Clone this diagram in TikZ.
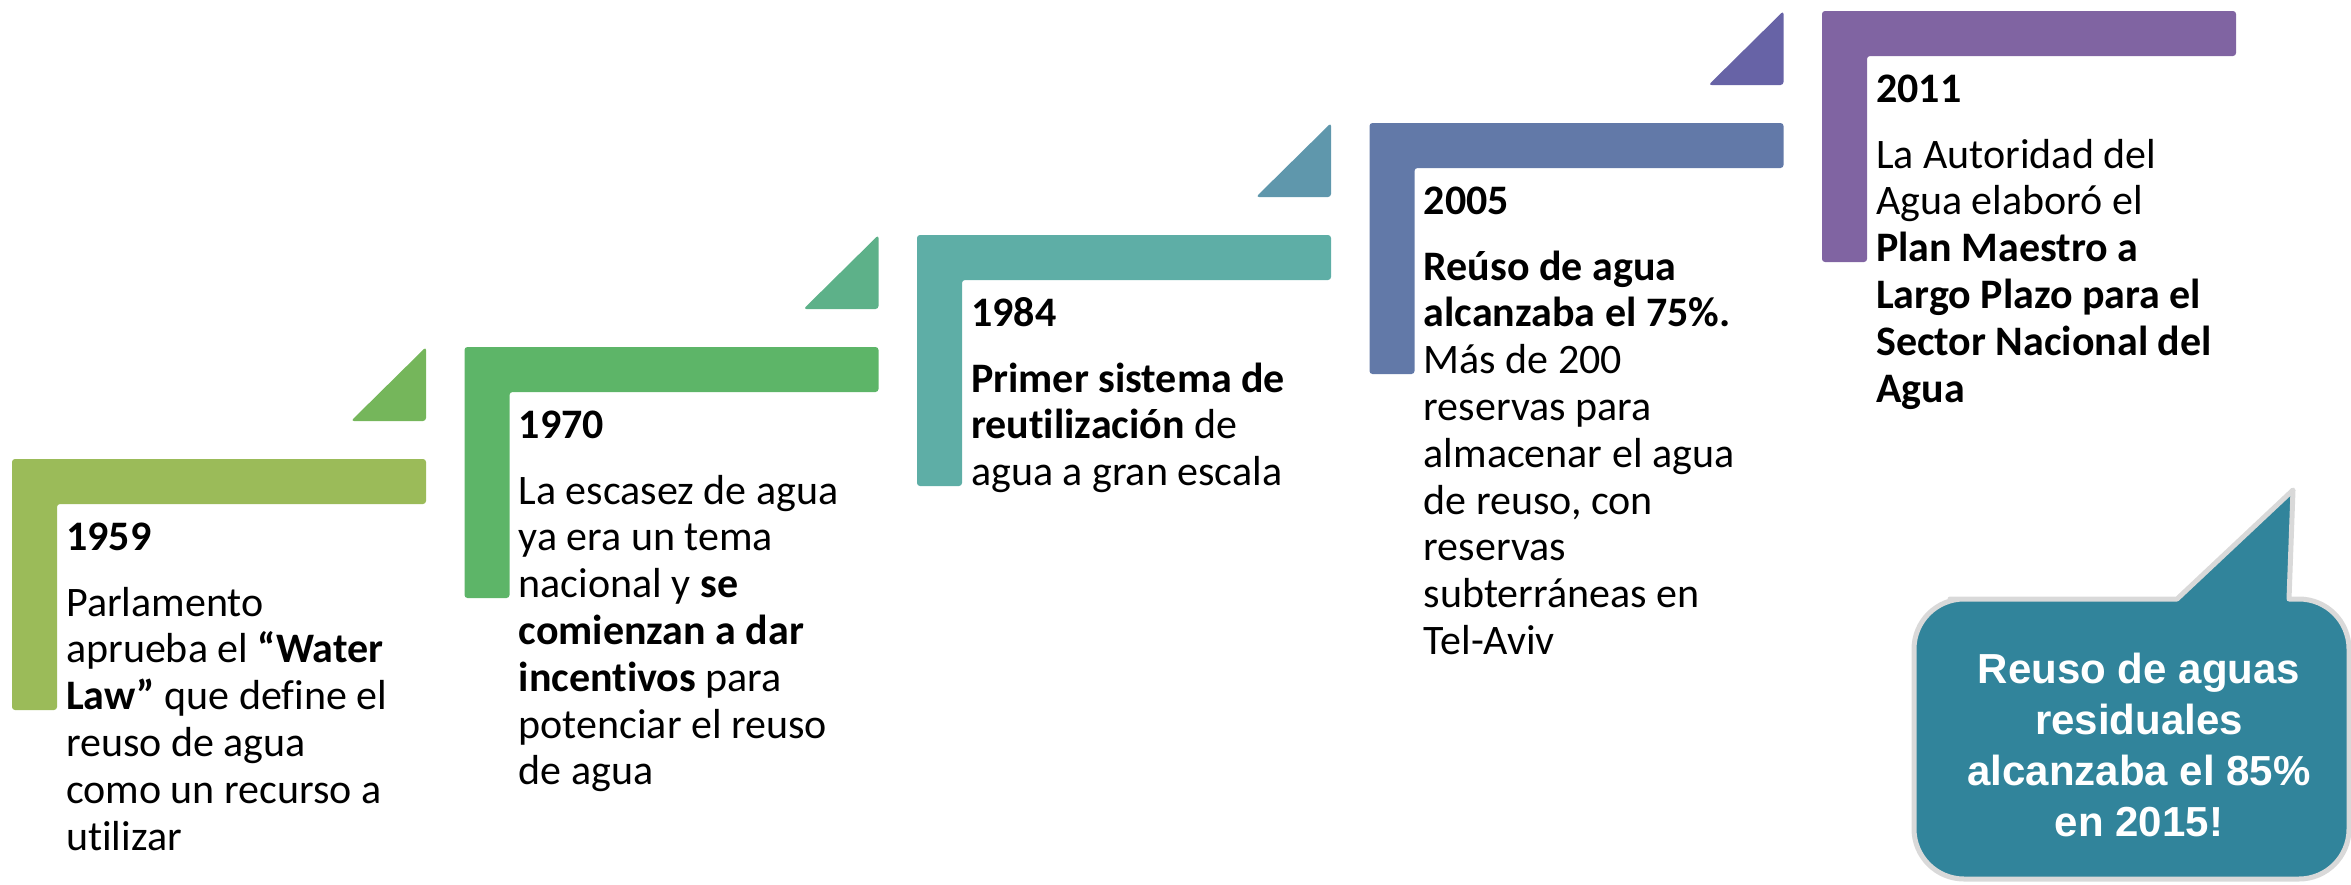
\documentclass[tikz,border=0pt]{standalone}
\usepackage{fontspec}
\setmainfont{Carlito}[Ligatures=NoCommon]
\newfontfamily\arialfont{Liberation Sans}
\definecolor{cA}{HTML}{9BBB59}
\definecolor{tA}{HTML}{75B65B}
\definecolor{cB}{HTML}{5DB568}
\definecolor{tB}{HTML}{5DB189}
\definecolor{cC}{HTML}{5EAEA6}
\definecolor{tC}{HTML}{5F97AC}
\definecolor{cD}{HTML}{6279A8}
\definecolor{tD}{HTML}{6763A6}
\definecolor{cE}{HTML}{8064A2}
\definecolor{calloutfill}{HTML}{31849B}
\definecolor{calloutline}{HTML}{D9D9D9}
\newcommand{\bodyfont}{\fontsize{42}{46.8}\selectfont}
\begin{document}
\begin{tikzpicture}[x=1pt,y=-1pt,
  stepshape/.style={fill=#1, rounded corners=3pt},
  trishape/.style={fill=#1, rounded corners=3pt},
  yeartext/.style={anchor=base west, inner sep=0pt, font=\bodyfont\bfseries},
  bodytext/.style={anchor=base west, inner sep=0pt},
  callouttext/.style={anchor=base, inner sep=0pt, text=white}]
\useasboundingbox (0,0) rectangle (2351,884);

% steps
\fill[stepshape=cA] (12,459) -- (426,459) -- (426,504) -- (57,504) -- (57,710) -- (12,710) -- cycle;
\fill[stepshape=cB] (464.5,347) -- (878.5,347) -- (878.5,392) -- (509.5,392) -- (509.5,598) -- (464.5,598) -- cycle;
\fill[stepshape=cC] (917,235) -- (1331,235) -- (1331,280) -- (962,280) -- (962,486) -- (917,486) -- cycle;
\fill[stepshape=cD] (1369.5,123) -- (1783.5,123) -- (1783.5,168) -- (1414.5,168) -- (1414.5,374) -- (1369.5,374) -- cycle;
\fill[stepshape=cE] (1822,11) -- (2236,11) -- (2236,56) -- (1867,56) -- (1867,262) -- (1822,262) -- cycle;

% triangles
\fill[trishape=tA] (351,421) -- (426,421) -- (426,347) -- cycle;
\fill[trishape=tB] (803.5,309) -- (878.5,309) -- (878.5,235) -- cycle;
\fill[trishape=tC] (1256,197) -- (1331,197) -- (1331,123) -- cycle;
\fill[trishape=tD] (1708.5,85) -- (1783.5,85) -- (1783.5,11) -- cycle;

% texts
\node[yeartext] (y1959) at (66,550) {1959};
\node[bodytext] (b1959) at (66,616) {\parbox[t]{380pt}{\bodyfont\raggedright Parlamento\\aprueba el \textbf{“Water}\\\textbf{Law”} que define el\\reuso de agua\\como un recurso a\\utilizar}};

\node[yeartext] (y1970) at (518.5,438) {1970};
\node[bodytext] (b1970) at (518.5,504) {\parbox[t]{380pt}{\bodyfont\raggedright La escasez de agua\\ya era un tema\\nacional y \textbf{se}\\\textbf{comienzan a dar}\\\textbf{incentivos} para\\potenciar el reuso\\de agua}};

\node[yeartext] (y1984) at (971,326) {1984};
\node[bodytext] (b1984) at (971,392) {\parbox[t]{380pt}{\bodyfont\raggedright \textbf{Primer sistema de}\\\textbf{reutilización} de\\agua a gran escala}};

\node[yeartext] (y2005) at (1423.5,214) {2005};
\node[bodytext] (b2005) at (1423.5,280) {\parbox[t]{380pt}{\bodyfont\raggedright \textbf{Reúso de agua}\\\textbf{alcanzaba el 75\%.}\\Más de 200\\reservas para\\almacenar el agua\\de reuso, con\\reservas\\subterráneas en\\Tel-Aviv}};

\node[yeartext] (y2011) at (1876,102) {2011};
\node[bodytext] (b2011) at (1876,168) {\parbox[t]{380pt}{\bodyfont\raggedright La Autoridad del\\Agua elaboró el\\\textbf{Plan Maestro a}\\\textbf{Largo Plazo para el}\\\textbf{Sector Nacional del}\\\textbf{Agua}}};

% callout
\draw[fill=calloutfill, draw=calloutline, line width=5pt, line join=round]
  (2000,599) -- (2177,599) -- (2293,490) -- (2289,599) -- (2300,599)
  [rounded corners=50pt] -- (2349,599) -- (2349,879) -- (1914,879) -- (1914,599) -- cycle;
\node[callouttext] (callout) at (2139,683) {\parbox[t]{440pt}{\centering\arialfont\bfseries\fontsize{42}{51.3}\selectfont Reuso de aguas\\residuales\\alcanzaba el 85\%\\en 2015!}};
\end{tikzpicture}
\end{document}
